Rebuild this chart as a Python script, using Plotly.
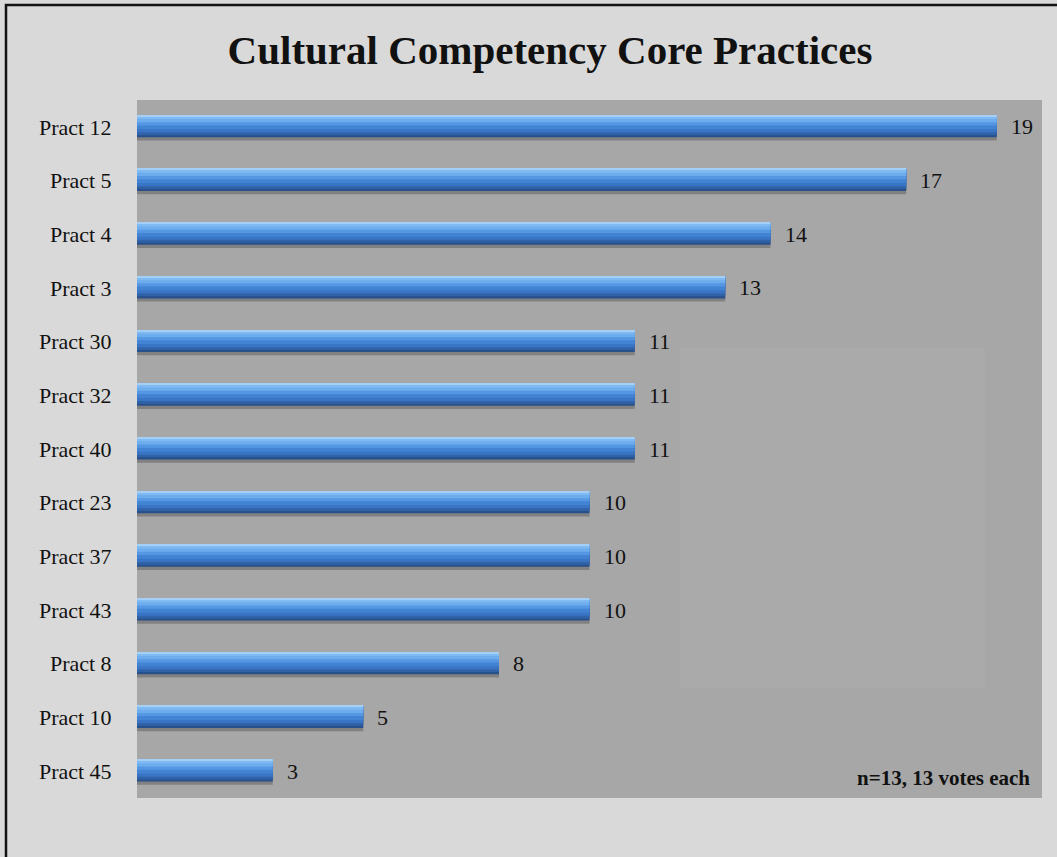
import plotly.graph_objects as go

categories = ["Pract 12", "Pract 5", "Pract 4", "Pract 3", "Pract 30", "Pract 32", "Pract 40",
              "Pract 23", "Pract 37", "Pract 43", "Pract 8", "Pract 10", "Pract 45"]
votes = [19, 17, 14, 13, 11, 11, 11, 10, 10, 10, 8, 5, 3]
title_text = "Cultural Competency Core Practices"
note_text = "n=13, 13 votes each"

W, H = 1057, 857
L, R, T, B = 137, 15, 100, 59
PW, PH = W - L - R, H - T - B


def px_x(px):
    return (px - L) / PW


def px_y(py):
    return (H - B - py) / PH


SERIF = "Liberation Serif, Times New Roman, serif"

fig = go.Figure()

# cylinder-like bar built from stacked overlay layers (top-anchored)
TOP = -0.215
layers = [
    # (width, color)
    (0.47, "rgba(60,60,60,0.35)"),   # soft shadow under the bar
    (0.41, "#28508a"),
    (0.37, "#3062a8"),
    (0.32, "#3a74c4"),
    (0.26, "#4283d4"),
    (0.19, "#5597e2"),
    (0.13, "#6eaded"),
    (0.07, "#80baf2"),
    (0.02, "#a4d0f8"),
]
for w, col in layers:
    fig.add_trace(go.Bar(
        y=categories, x=votes, orientation="h",
        width=w, offset=TOP,
        marker=dict(color=col, line=dict(width=0)),
        hoverinfo="skip", showlegend=False,
    ))

annotations = []
for c, v in zip(categories, votes):
    annotations.append(dict(
        x=v, y=c, xref="x", yref="y", text=str(v), showarrow=False,
        xanchor="left", yanchor="middle", xshift=12,
        font=dict(family=SERIF, size=22, color="#111111"),
    ))
annotations.append(dict(
    x=px_x(1032), y=px_y(778), xref="paper", yref="paper", text="<b>%s</b>" % note_text,
    showarrow=False, xanchor="right", yanchor="middle",
    font=dict(family=SERIF, size=21, color="#111111"),
))

shapes = [
    # faint lighter patch in the plot area
    dict(type="rect", xref="paper", yref="paper", layer="below",
         x0=px_x(680), x1=px_x(985), y0=px_y(688), y1=px_y(348),
         fillcolor="#aaaaaa", line=dict(width=0)),
    # outer frame
    dict(type="rect", xref="paper", yref="paper", layer="above",
         x0=px_x(6), x1=px_x(1075), y0=px_y(875), y1=px_y(5),
         fillcolor="rgba(0,0,0,0)", line=dict(color="#111111", width=2.5)),
]

fig.update_layout(
    width=W, height=H,
    margin=dict(l=L, r=R, t=T, b=B),
    paper_bgcolor="#d9d9d9",
    plot_bgcolor="#a7a7a7",
    barmode="overlay",
    title=dict(text="<b>%s</b>" % title_text, x=550 / W, xanchor="center",
               y=1 - 50 / H, yanchor="middle",
               font=dict(family=SERIF, size=41, color="#111111")),
    xaxis=dict(range=[0, 20], showgrid=False, zeroline=False, showticklabels=False,
               ticks="", showline=False, fixedrange=True),
    yaxis=dict(categoryorder="array", categoryarray=categories, autorange="reversed",
               showgrid=False, zeroline=False, showline=False,
               ticks="outside", ticklen=20, tickcolor="rgba(0,0,0,0)",
               tickfont=dict(family=SERIF, size=22, color="#111111")),
    annotations=annotations,
    shapes=shapes,
)

fig.write_html("out.html")
